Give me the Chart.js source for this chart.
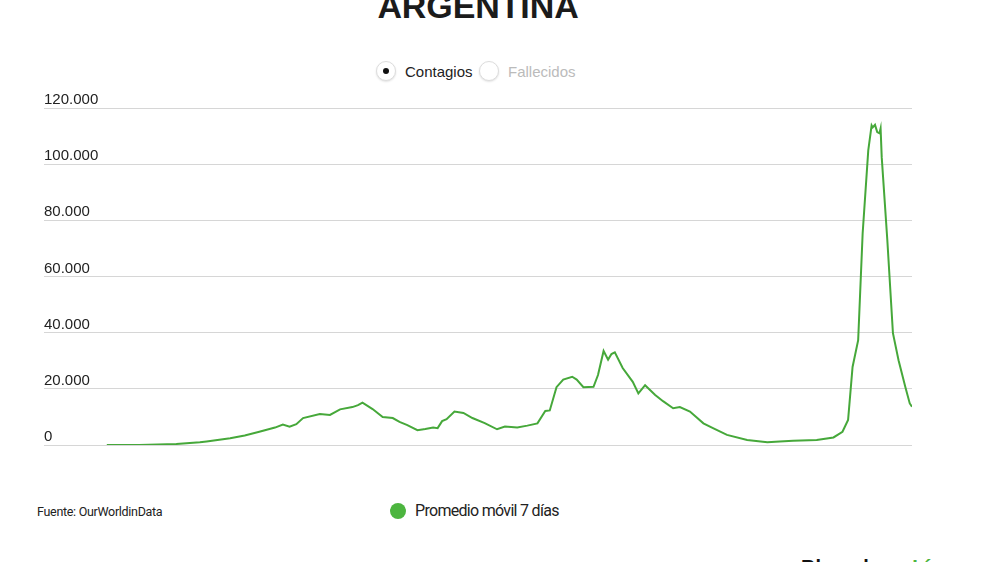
<!DOCTYPE html>
<html lang="es">
<head>
  <meta charset="UTF-8" />
  <title>Argentina - Contagios</title>
  <script src="https://cdn.jsdelivr.net/npm/chart.js"></script>
  <style>
    body {
      margin: 0;
      width: 1000px;
      height: 562px;
      background: #fff;
      font-family: 'Liberation Sans', Arial, sans-serif;
      position: relative;
      overflow: hidden;
    }
    #titulo {
      position: absolute;
      top: -13px;
      left: 0;
      width: 956px;
      text-align: center;
      font-size: 34px;
      font-weight: bold;
      color: #1b1b1b;
      letter-spacing: -0.1px;
    }
    .radio {
      position: absolute;
      top: 61px;
      width: 18px;
      height: 18px;
      border-radius: 50%;
      border: 1px solid #ddd;
      box-shadow: 0 1px 2px rgba(0,0,0,0.12);
      background: #fff;
    }
    .radio .punto {
      position: absolute;
      left: 6px;
      top: 6px;
      width: 6px;
      height: 6px;
      border-radius: 50%;
      background: #111;
    }
    .opcion {
      position: absolute;
      top: 63px;
      font-size: 15px;
    }
    #grafico-container {
      position: absolute;
      left: 44px;
      top: 80px;
      width: 868px;
      height: 374px;
    }
    #fuente {
      position: absolute;
      left: 37px;
      top: 504px;
      font-family: Roboto, sans-serif;
      font-size: 12.5px;
      letter-spacing: -0.3px;
      color: #222;
    }
    #leyenda {
      position: absolute;
      left: 390px;
      top: 501px;
      font-family: Roboto, sans-serif;
      font-size: 16px;
      letter-spacing: -0.7px;
      color: #222;
      display: flex;
      align-items: center;
    }
    #leyenda span.dot {
      width: 16px;
      height: 16px;
      border-radius: 50%;
      background: #4cb53f;
      margin-right: 9px;
    }
    #logo {
      position: absolute;
      left: 801px;
      top: 557px;
      font-family: 'Liberation Sans', Arial, sans-serif;
      font-weight: bold;
      font-size: 20px;
      line-height: 1;
      color: #111;
      white-space: nowrap;
    }
    #logo b { color: #4cb53f; }
  </style>
</head>
<body>
  <div id="titulo">ARGENTINA</div>

  <div class="radio" style="left:376px;"><div class="punto"></div></div>
  <div class="opcion" style="left:405px; color:#222;">Contagios</div>
  <div class="radio" style="left:479px;"></div>
  <div class="opcion" style="left:508px; color:#bbb;">Fallecidos</div>

  <div id="grafico-container">
    <canvas id="grafico"></canvas>
  </div>

  <div id="fuente">Fuente: OurWorldinData</div>
  <div id="leyenda"><span class="dot"></span>Promedio móvil 7 días</div>
  <div id="logo">Bloomberg <b>Línea</b></div>

  <script>
    // dias desde el 3 de marzo de 2020
    const dias = [0, 29, 62, 83, 89, 110, 123, 136, 150, 157, 163, 169, 175, 190, 199, 208, 219, 224, 228,
      237, 246, 255, 261, 268, 277, 284, 291, 295, 299, 303, 310, 318, 326, 337, 348, 355, 366, 375, 384,
      391, 395, 401, 407, 415, 419, 425, 434, 438, 443, 447, 450, 453, 460, 469, 474, 480, 489, 496, 505,
      511, 520, 532, 541, 553, 571, 589, 600, 612, 633, 648, 656, 661, 665, 670, 674, 679, 682, 683, 685,
      687, 689, 690, 691, 696, 701, 706, 712, 716, 718];

    // contagios, promedio movil 7 dias
    const contagios = [0, 0, 350, 960, 1250, 2400, 3400, 4700, 6200, 7300, 6500, 7400, 9600, 11000, 10700,
      12700, 13500, 14200, 15100, 12800, 10000, 9600, 8200, 7100, 5300, 5700, 6200, 6000, 8500, 9200, 11900,
      11400, 9600, 7800, 5600, 6600, 6200, 6900, 7700, 12100, 12300, 20600, 23300, 24300, 23300, 20600,
      20700, 24900, 33500, 30400, 32400, 33000, 27400, 22500, 18400, 21300, 17800, 15600, 13100, 13500,
      11900, 7700, 5900, 3600, 1800, 960, 1250, 1500, 1800, 2700, 4700, 8900, 27800, 37300, 75400, 104900,
      113800, 113100, 114000, 111400, 111000, 112700, 102500, 72900, 39800, 30200, 20700, 14800, 13600];

    const ticksY = [0, 20000, 40000, 60000, 80000, 100000, 120000];

    const puntos = dias.map((d, i) => ({ x: d, y: contagios[i] }));

    const config = {
      type: 'line',
      data: {
        datasets: [{
          label: 'Promedio móvil 7 días',
          data: puntos,
          borderColor: '#46a83a',
          borderWidth: 2,
          pointRadius: 0,
          tension: 0,
          fill: false
        }]
      },
      options: {
        responsive: true,
        maintainAspectRatio: false,
        animation: false,
        layout: { padding: { top: 28, bottom: 1, left: 0, right: 0 } },
        plugins: {
          legend: { display: false },
          tooltip: { enabled: false }
        },
        scales: {
          x: {
            type: 'linear',
            min: -56,
            max: 718,
            display: false
          },
          y: {
            min: 0,
            max: 120000,
            afterBuildTicks: (scale) => {
              scale.ticks = ticksY.map(v => ({ value: v }));
            },
            afterFit: (scale) => { scale.width = 0; },
            border: { display: false },
            grid: {
              color: '#d6d6d6',
              lineWidth: 1,
              drawTicks: false
            },
            ticks: {
              mirror: true,
              padding: 0,
              labelOffset: -8,
              color: '#222',
              font: { family: "'Liberation Sans', Arial, sans-serif", size: 15 },
              callback: v => v.toLocaleString('de-DE')
            }
          }
        }
      }
    };

    new Chart(document.getElementById('grafico').getContext('2d'), config);
  </script>
</body>
</html>
